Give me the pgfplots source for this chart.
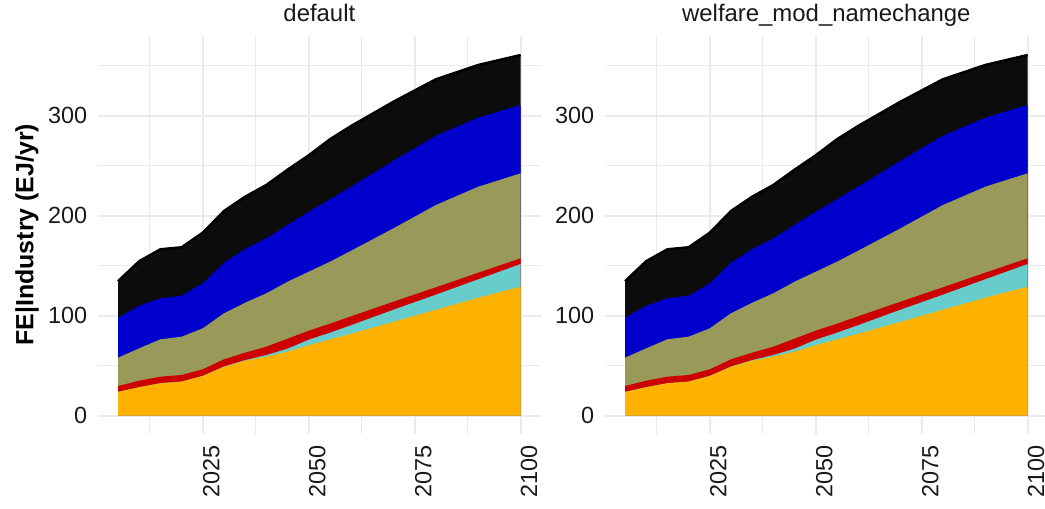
\documentclass[border=0pt]{standalone}
\usepackage{fontspec}
\setmainfont{Liberation Sans}
\usepackage{pgfplots}
\usepackage{pgfplotstable}
\pgfplotsset{compat=1.18}

\definecolor{cEl}{HTML}{FFB200}
\definecolor{cH2}{HTML}{66CCCC}
\definecolor{cHeat}{HTML}{CC0000}
\definecolor{cGas}{HTML}{999959}
\definecolor{cLiq}{HTML}{0000CC}
\definecolor{cSol}{HTML}{0C0C0C}
\definecolor{grid92}{HTML}{EBEBEB}

% cumulative (stacked) tops, EJ/yr
\pgfplotstableread{
year el    h2    heat  gas   liq   sol
2005 23.7  23.8  29.7  58.0  98.0  134.5
2010 28.4  28.5  35.0  67.4  110.0 154.5
2015 32.4  32.5  39.0  76.4  117.4 166.4
2020 34.0  34.1  40.7  79.0  120.0 168.4
2025 39.7  39.8  46.4  87.4  132.4 183.0
2030 48.8  49.2  56.4  102.4 153.0 204.7
2035 55.0  55.6  63.0  113.0 166.7 219.0
2040 59.0  60.7  69.0  122.4 177.4 230.7
2045 64.0  67.0  77.0  134.0 190.7 246.0
2050 70.5  76.0  85.0  144.0 204.0 260.4
2055 76.2  83.0  92.0  154.0 216.4 276.4
2060 82.0  90.5  99.4  165.0 229.0 289.7
2070 93.8  106.0 114.0 187.4 255.0 314.0
2080 106.0 121.0 128.4 210.7 280.0 336.4
2090 118.0 136.4 143.0 229.0 298.0 350.7
2100 129.0 151.7 157.4 242.4 310.7 360.7
}\fedata

\pgfplotsset{
  facet/.style={
    scale only axis, width=442.9bp, height=398.2bp,
    xmin=2000.25, xmax=2104.75, ymin=-18.1, ymax=380.1,
    axis line style={draw=none},
    major tick length=0pt, minor tick length=0pt,
    xtick={2025,2050,2075,2100},
    minor xtick={2012.5,2037.5,2062.5,2087.5},
    ytick={0,100,200,300},
    minor ytick={50,150,250,350},
    grid=both,
    major grid style={draw=grid92, line width=2bp},
    minor grid style={draw=grid92, line width=1.2bp},
    /pgf/number format/assume math mode=true,
    /pgf/number format/1000 sep={},
    tick label style={font=\fontsize{23.5}{28}\selectfont, text=black!90, inner sep=0pt},
    xticklabel style={rotate=90, anchor=north east},
    xticklabel shift=11bp,
    yticklabel style={anchor=east},
    yticklabel shift=10.6bp,
    title style={at={(0.5,1)}, anchor=base, yshift=8.6bp, inner sep=0pt,
      font=\fontsize{24}{28}\selectfont, text=black!90},
  },
}

\newcommand{\feareas}{%
  \addplot[fill=cSol, draw=none] table[x=year,y=sol]{\fedata} \closedcycle;
  \addplot[fill=cLiq, draw=none] table[x=year,y=liq]{\fedata} \closedcycle;
  \addplot[fill=cGas, draw=none] table[x=year,y=gas]{\fedata} \closedcycle;
  \addplot[fill=cHeat, draw=none] table[x=year,y=heat]{\fedata} \closedcycle;
  \addplot[fill=cH2, draw=none] table[x=year,y=h2]{\fedata} \closedcycle;
  \addplot[fill=cEl, draw=none] table[x=year,y=el]{\fedata} \closedcycle;
  \addplot[draw=black, line width=2.5bp] table[x=year,y=sol]{\fedata};
}

\begin{document}
\begin{tikzpicture}
\useasboundingbox (0,0) rectangle (1045bp,509bp);

\begin{axis}[facet, at={(97.9bp,75.2bp)}, anchor=south west, title={default}]
\feareas
\end{axis}

\begin{axis}[facet, at={(604.9bp,75.2bp)}, anchor=south west, title={welfare\_mod\_namechange}]
\feareas
\end{axis}

\node[rotate=90, anchor=base, inner sep=0pt, font=\fontsize{25}{30}\selectfont\bfseries]
  at (33.3bp,274.3bp) {FE|Industry (EJ/yr)};
\end{tikzpicture}
\end{document}
